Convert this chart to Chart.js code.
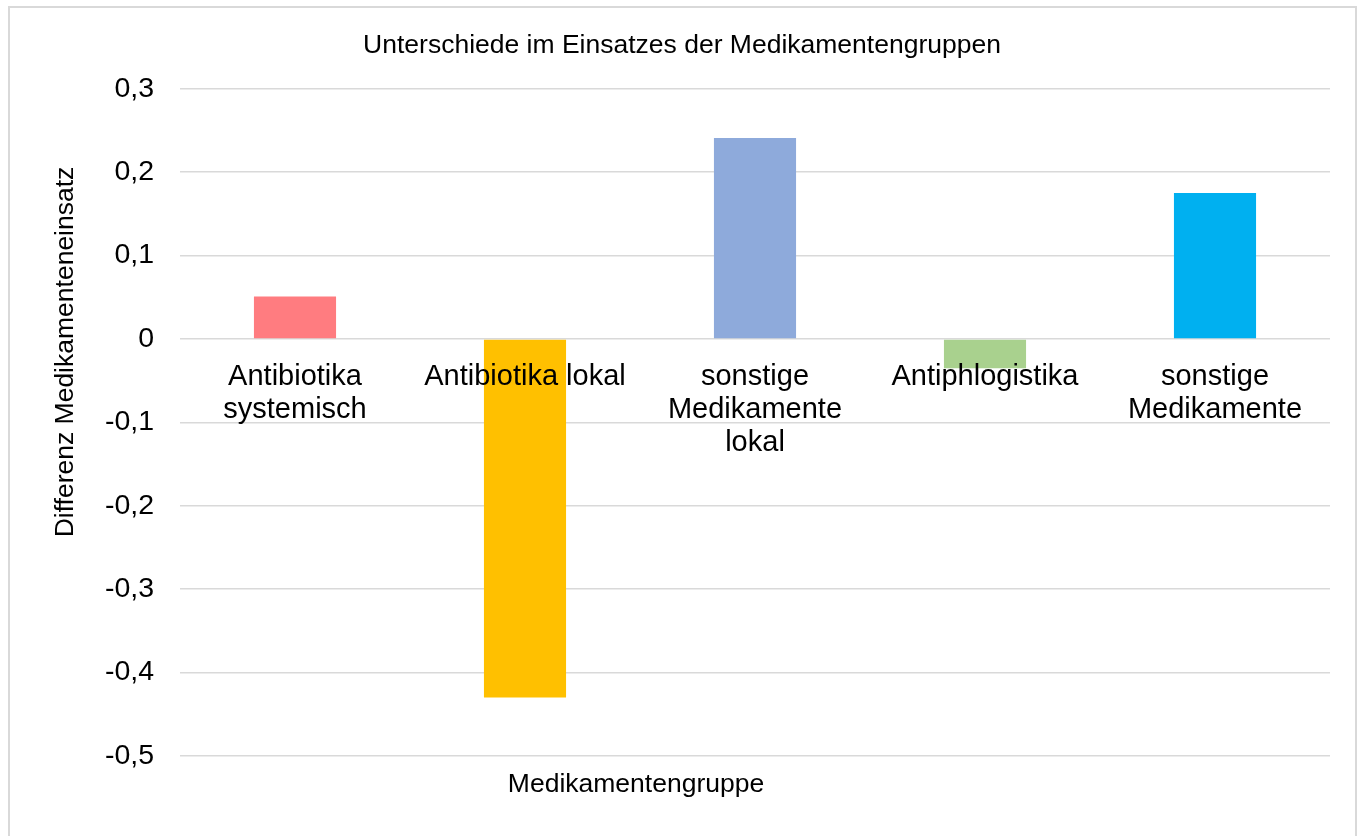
<!DOCTYPE html>
<html>
<head>
<meta charset="utf-8">
<script src="https://cdn.jsdelivr.net/npm/chart.js@4/dist/chart.umd.min.js"></script>
<style>
  body { margin: 0; background: #fff; }
  #wrap { position: relative; width: 1359px; height: 836px; }
  #rahmen { position: absolute; left: 8px; top: 6px; width: 1349px; height: 832px; border: 2px solid #d9d9d9; box-sizing: border-box; pointer-events: none; }
  .achse { position: absolute; font-family: "Liberation Sans", Arial, sans-serif; font-size: 26.5px; color: #000; white-space: nowrap; }
  #xtitel { left: 636px; top: 783px; transform: translate(-50%, -50%); }
  #ytitel { left: 64px; top: 352px; transform: translate(-50%, -50%) rotate(-90deg); }
</style>
</head>
<body>
<div id="wrap">
  <canvas id="graphe"></canvas>
  <div id="rahmen"></div>
  <div class="achse" id="xtitel">Medikamentengruppe</div>
  <div class="achse" id="ytitel">Differenz Medikamenteneinsatz</div>
</div>
<script>
// Kategorien und Werte
var V_kategorien = [
    ['Antibiotika', 'systemisch'],
    'Antibiotika lokal',
    ['sonstige', 'Medikamente', 'lokal'],
    'Antiphlogistika',
    ['sonstige', 'Medikamente']
];
var V_werte = [0.051, -0.43, 0.241, -0.035, 0.175];
var V_farben = ['#ff7c80', '#ffc000', '#8eaadb', '#a9d18e', '#00b0f0'];
var V_yTicks = [0.3, 0.2, 0.1, 0, -0.1, -0.2, -0.3, -0.4, -0.5];

var S_font = '"Liberation Sans", Arial, sans-serif';

var O_canvas = document.getElementById('graphe');
O_canvas.width = 1359;
O_canvas.height = 836;

var O_graphe = new Chart(O_canvas.getContext('2d'), {
    type: 'bar',
    data: {
        labels: V_kategorien,
        datasets: [{
            data: V_werte,
            backgroundColor: V_farben,
            borderWidth: 0,
            barPercentage: 0.357,
            categoryPercentage: 1
        }]
    },
    options: {
        responsive: false,
        animation: false,
        layout: { padding: { top: 30, right: 29, bottom: 80, left: 34 } },
        plugins: {
            legend: { display: false },
            tooltip: { enabled: false },
            title: {
                display: true,
                text: 'Unterschiede im Einsatzes der Medikamentengruppen',
                color: '#000',
                font: { family: S_font, size: 26.5, weight: 'normal' },
                padding: { top: 0, bottom: 27 }
            }
        },
        scales: {
            x: {
                position: { y: 0 },
                grid: { display: false, drawTicks: false },
                border: { display: false },
                ticks: {
                    z: 1,   // Beschriftung über den Balken
                    color: '#000',
                    padding: 21,
                    maxRotation: 0,
                    autoSkip: false,
                    font: { family: S_font, size: 29, lineHeight: 1.15 }
                }
            },
            y: {
                min: -0.5,
                max: 0.3,
                afterFit: function(scale){ scale.width = 146; },
                afterBuildTicks: function(scale){
                    scale.ticks = V_yTicks.map(function(v){ return { value: v }; });
                },
                grid: { color: '#d9d9d9', lineWidth: 1.5, drawTicks: false },
                border: { display: false },
                ticks: {
                    color: '#000',
                    padding: 26,
                    font: { family: S_font, size: 28.5 },
                    callback: function(v){
                        if (Math.abs(v) < 1e-9) return '0';
                        return v.toFixed(1).replace('.', ',');
                    }
                }
            }
        }
    }
});
</script>
</body>
</html>
